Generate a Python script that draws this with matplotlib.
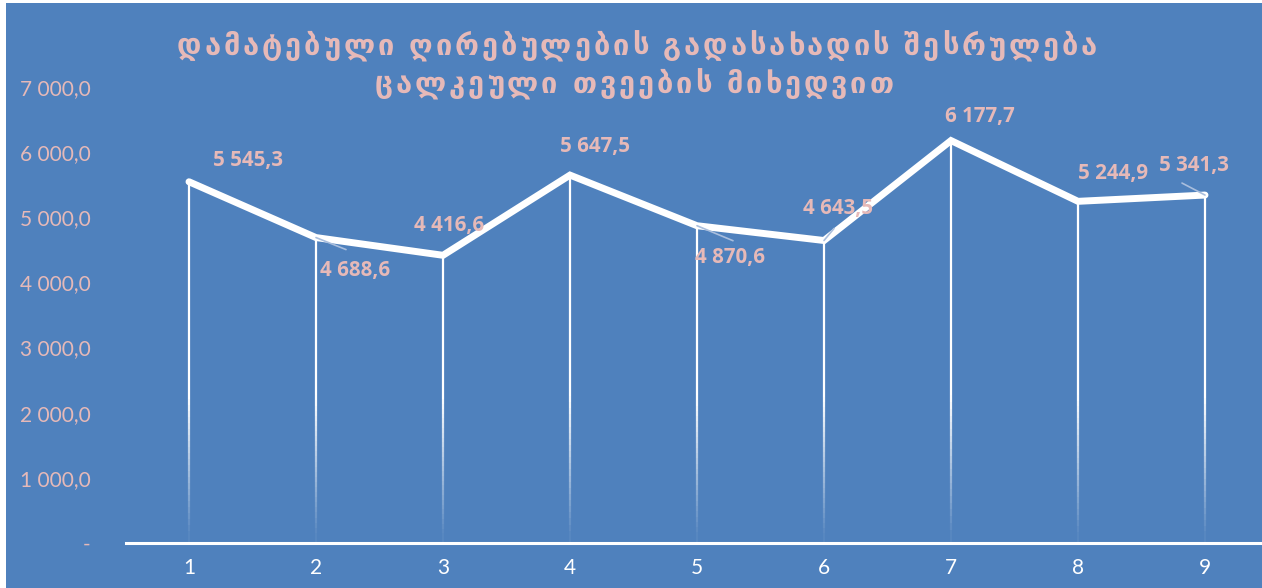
import numpy as np
import matplotlib.pyplot as plt
from matplotlib.patches import Rectangle
from matplotlib.collections import LineCollection

months = [1, 2, 3, 4, 5, 6, 7, 8, 9]
values = [5545.3, 4688.6, 4416.6, 5647.5, 4870.6, 4643.5, 6177.7, 5244.9, 5341.3]
labels = ["5 545,3", "4 688,6", "4 416,6", "5 647,5", "4 870,6",
          "4 643,5", "6 177,7", "5 244,9", "5 341,3"]
# label offsets in pixels (dx, dy) from the point
offsets = [(59, 21), (39, -33), (6, 30), (25, 29), (33, -32),
           (14, 32), (29, 24), (35, 28), (-11, 30)]
yticks = [0, 1000, 2000, 3000, 4000, 5000, 6000, 7000]
ytick_labels = ["-", "1 000,0", "2 000,0", "3 000,0", "4 000,0",
                "5 000,0", "6 000,0", "7 000,0"]
title_lines = ["დამატებული ღირებულების გადასახადის შესრულება",
               "ცალკეული თვეების მიხედვით"]

bg = "#4F81BD"
salmon = "#E6B9B8"
W, H = 1262, 588

fig = plt.figure(figsize=(W / 100, H / 100), dpi=100)
fig.patch.set_facecolor("white")
fig.patches.append(Rectangle((6 / W, 0), 1, 1 - 3 / H, transform=fig.transFigure,
                             facecolor=bg, edgecolor="none", zorder=-10))

left = 125.5 / W
width = 9 * 127 / W
bottom = (H - 543) / H
top = (H - 87) / H
ax = fig.add_axes([left, bottom, width, top - bottom])
ax.set_facecolor("none")
ax.set_xlim(0.5, 9.5)
ax.set_ylim(0, 7000)
for s in ["left", "right", "top"]:
    ax.spines[s].set_visible(False)
ax.spines["bottom"].set_color("white")
ax.spines["bottom"].set_linewidth(2.2)
ax.set_xticks(months)
ax.set_xticklabels([str(m) for m in months], color="white", fontsize=15,
                   fontfamily="Lato")
ax.tick_params(axis="x", length=0, pad=11)
ax.set_yticks(yticks)
ax.set_yticklabels(ytick_labels, color=salmon, fontsize=15, fontfamily="Lato")
ax.tick_params(axis="y", length=0, pad=25)

# drop lines with fading bottom
for x, v in zip(months, values):
    n = 60
    ys = np.linspace(0, v, n + 1)
    alphas = np.clip(ys[:-1] / 2200.0, 0.05, 1.0)
    segs = [[(x, ys[i]), (x, ys[i + 1])] for i in range(n)]
    cols = [(1, 1, 1, a) for a in alphas]
    ax.add_collection(LineCollection(segs, colors=cols, linewidths=1.6, zorder=2))

ax.plot(months, values, color="white", linewidth=5.0, solid_capstyle="round",
        solid_joinstyle="miter", zorder=3)

for x, v, lab, (dx, dy) in zip(months, values, labels, offsets):
    ax.annotate(lab, (x, v), xytext=(dx * 0.72, dy * 0.72), textcoords="offset points",
                ha="center", va="center", color=salmon, fontsize=14.8,
                fontweight="bold", fontfamily="Open Sans", zorder=5)

# leader lines
leader_pts = {2: (30, -12), 5: (36, -15), 6: (10, 12), 9: (-23, 12)}
for i, (dx, dy) in leader_pts.items():
    ax.annotate("", (months[i - 1], values[i - 1]), xytext=(dx * 0.72, dy * 0.72),
                textcoords="offset points",
                arrowprops=dict(arrowstyle="-", color="#A9BEDD", lw=1.2,
                                shrinkA=0, shrinkB=0), zorder=4)

# title with letter spacing, drawn char by char
renderer = fig.canvas.get_renderer()
tkw = dict(color=salmon, fontsize=21, fontweight="bold", fontfamily="DejaVu Sans",
           va="center", ha="left")
spacing = 2.9
space_w = 9
for line, (cx, cy) in zip(title_lines, [(637, 47), (634, 85)]):
    widths = []
    for ch in line:
        if ch == " ":
            widths.append(space_w)
            continue
        t = fig.text(0, 0, ch, **tkw)
        widths.append(t.get_window_extent(renderer).width)
        t.remove()
    total = sum(widths) + spacing * (len(line) - 1)
    x = cx - total / 2
    for ch, w in zip(line, widths):
        if ch != " ":
            fig.text(x / W, 1 - cy / H, ch, **tkw)
        x += w + spacing

fig.savefig("out.png", dpi=100)
